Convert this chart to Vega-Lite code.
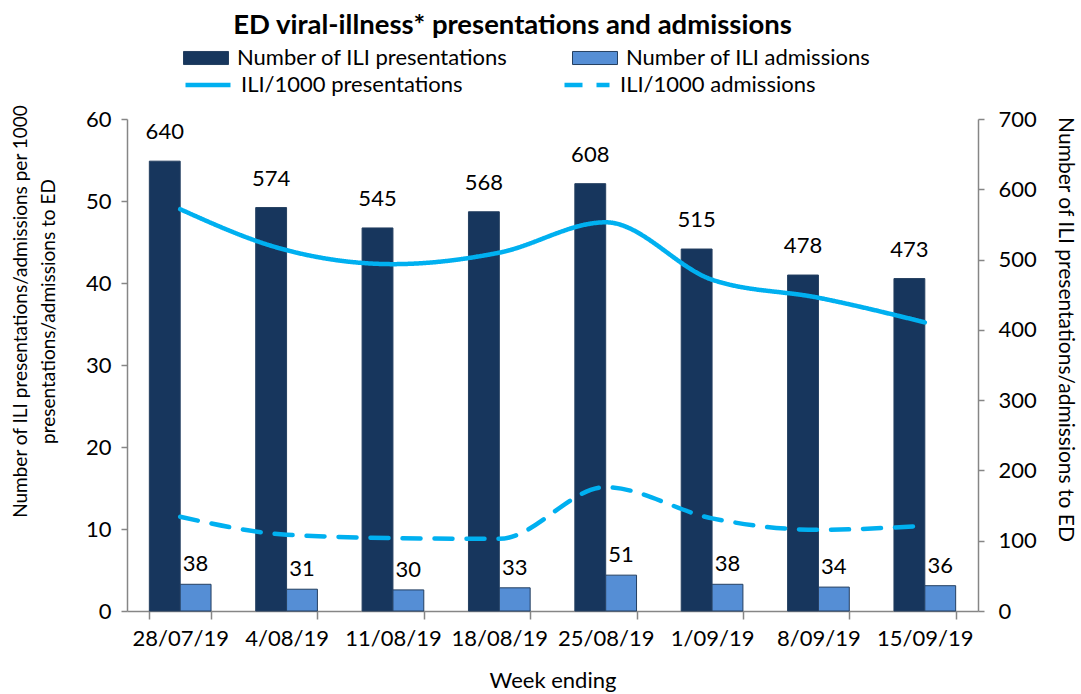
{
  "$schema": "https://vega.github.io/schema/vega-lite/v6.json",
  "width": 851,
  "height": 492,
  "autosize": {"type": "none"},
  "padding": {"left": 127, "top": 119, "right": 103, "bottom": 83},
  "background": "white",
  "config": {
    "font": "Lato",
    "view": {"stroke": null},
    "axis": {"grid": false, "domainColor": "#868686", "tickColor": "#868686", "labelColor": "#000000", "titleColor": "#000000", "labelFont": "Lato", "titleFont": "Lato", "titleFontWeight": "normal"}
  },
  "title": {"text": "ED viral-illness* presentations and admissions", "font": "Lato", "fontSize": 27.5, "fontWeight": "bold", "anchor": "middle", "dx": -40, "offset": -4, "color": "#000000"},
  "datasets": {
    "bars": [
      {"week": "28/07/19", "series": "Number of ILI presentations", "count": 640},
      {"week": "28/07/19", "series": "Number of ILI admissions", "count": 38},
      {"week": "4/08/19", "series": "Number of ILI presentations", "count": 574},
      {"week": "4/08/19", "series": "Number of ILI admissions", "count": 31},
      {"week": "11/08/19", "series": "Number of ILI presentations", "count": 545},
      {"week": "11/08/19", "series": "Number of ILI admissions", "count": 30},
      {"week": "18/08/19", "series": "Number of ILI presentations", "count": 568},
      {"week": "18/08/19", "series": "Number of ILI admissions", "count": 33},
      {"week": "25/08/19", "series": "Number of ILI presentations", "count": 608},
      {"week": "25/08/19", "series": "Number of ILI admissions", "count": 51},
      {"week": "1/09/19", "series": "Number of ILI presentations", "count": 515},
      {"week": "1/09/19", "series": "Number of ILI admissions", "count": 38},
      {"week": "8/09/19", "series": "Number of ILI presentations", "count": 478},
      {"week": "8/09/19", "series": "Number of ILI admissions", "count": 34},
      {"week": "15/09/19", "series": "Number of ILI presentations", "count": 473},
      {"week": "15/09/19", "series": "Number of ILI admissions", "count": 36}
    ],
    "lines": [
      {"week": "28/07/19", "series": "ILI/1000 presentations", "rate": 49.0},
      {"week": "4/08/19", "series": "ILI/1000 presentations", "rate": 44.0},
      {"week": "11/08/19", "series": "ILI/1000 presentations", "rate": 42.3},
      {"week": "18/08/19", "series": "ILI/1000 presentations", "rate": 43.7},
      {"week": "25/08/19", "series": "ILI/1000 presentations", "rate": 47.4},
      {"week": "1/09/19", "series": "ILI/1000 presentations", "rate": 40.4},
      {"week": "8/09/19", "series": "ILI/1000 presentations", "rate": 38.2},
      {"week": "15/09/19", "series": "ILI/1000 presentations", "rate": 35.2},
      {"week": "28/07/19", "series": "ILI/1000 admissions", "rate": 11.5},
      {"week": "4/08/19", "series": "ILI/1000 admissions", "rate": 9.3},
      {"week": "11/08/19", "series": "ILI/1000 admissions", "rate": 8.9},
      {"week": "18/08/19", "series": "ILI/1000 admissions", "rate": 8.8},
      {"week": "25/08/19", "series": "ILI/1000 admissions", "rate": 15.1},
      {"week": "1/09/19", "series": "ILI/1000 admissions", "rate": 11.3},
      {"week": "8/09/19", "series": "ILI/1000 admissions", "rate": 9.9},
      {"week": "15/09/19", "series": "ILI/1000 admissions", "rate": 10.4}
    ]
  },
  "encoding": {
    "x": {
      "field": "week", "type": "nominal",
      "sort": ["28/07/19", "4/08/19", "11/08/19", "18/08/19", "25/08/19", "1/09/19", "8/09/19", "15/09/19"],
      "scale": {"paddingInner": 0.42, "paddingOuter": 0.21},
      "axis": {"title": "Week ending", "titleFontSize": 22, "titlePadding": 21, "labelFontSize": 22, "labelAngle": 0, "labelPadding": 9, "tickBand": "extent", "tickSize": 8, "domainWidth": 1.5, "tickWidth": 1.5}
    }
  },
  "layer": [
    {
      "data": {"name": "bars"},
      "encoding": {
        "xOffset": {"field": "series", "type": "nominal", "sort": ["Number of ILI presentations", "Number of ILI admissions"], "scale": {"domain": ["Number of ILI presentations", "Number of ILI admissions"], "paddingInner": 0, "paddingOuter": 0}},
        "y": {"field": "count", "type": "quantitative", "scale": {"domain": [0, 700], "nice": false}, "axis": {"orient": "right", "values": [0, 100, 200, 300, 400, 500, 600, 700], "title": "Number of ILI presentations/admissions  to ED", "titleFontSize": 21, "titlePadding": 18, "titleY": 210, "labelFontSize": 22, "labelPadding": 14, "tickSize": 6, "domainWidth": 1.5, "tickWidth": 1.5}}
      },
      "layer": [
        {
          "mark": {"type": "bar", "stroke": "#243F60", "strokeWidth": 1},
          "encoding": {
            "color": {"field": "series", "type": "nominal", "scale": {"domain": ["Number of ILI presentations", "Number of ILI admissions"], "range": ["#17365D", "#558ED5"]},
              "legend": {"orient": "none", "legendX": 56, "legendY": -84, "title": null, "columns": 2, "columnPadding": 62, "labelFontSize": 22, "labelOffset": 8, "labelLimit": 400, "symbolType": "M-1,-0.29H1V0.29H-1Z", "symbolSize": 2025, "symbolStrokeColor": "#243F60", "symbolStrokeWidth": 1, "symbolOpacity": 1, "labelColor": "#000000"}}
          }
        },
        {
          "transform": [{"filter": "datum.series == 'Number of ILI presentations'"}],
          "mark": {"type": "text", "baseline": "bottom", "dy": -17, "fontSize": 22, "color": "#000000"},
          "encoding": {"text": {"field": "count", "type": "quantitative"}}
        },
        {
          "transform": [{"filter": "datum.series == 'Number of ILI admissions'"}],
          "mark": {"type": "text", "baseline": "bottom", "dy": -8, "fontSize": 22, "color": "#000000"},
          "encoding": {"text": {"field": "count", "type": "quantitative"}}
        }
      ]
    },
    {
      "data": {"name": "lines"},
      "mark": {"type": "line", "interpolate": "monotone", "color": "#00B0F0", "strokeWidth": 4.5, "strokeCap": "round"},
      "encoding": {
        "y": {"field": "rate", "type": "quantitative", "scale": {"domain": [0, 60], "nice": false}, "axis": {"orient": "left", "values": [0, 10, 20, 30, 40, 50, 60], "title": ["Number of ILI presentations/admissions per 1000", "presentations/admissions to ED"], "titleFontSize": 19, "titlePadding": 27, "titleY": 192, "titleLineHeight": 28, "labelFontSize": 22, "labelPadding": 10, "tickSize": 6, "domainWidth": 1.5, "tickWidth": 1.5}},
        "strokeDash": {"field": "series", "type": "nominal", "scale": {"domain": ["ILI/1000 presentations", "ILI/1000 admissions"], "range": [[1, 0], [18, 14]]},
          "legend": {"orient": "none", "legendX": 56, "legendY": -59, "title": null, "columns": 2, "columnPadding": 92, "labelFontSize": 22, "labelOffset": 8, "labelLimit": 400, "symbolType": "stroke", "symbolSize": 2025, "symbolStrokeColor": "#00B0F0", "symbolStrokeWidth": 4.5, "labelColor": "#000000"}}
      }
    }
  ],
  "resolve": {"scale": {"y": "independent"}}
}
